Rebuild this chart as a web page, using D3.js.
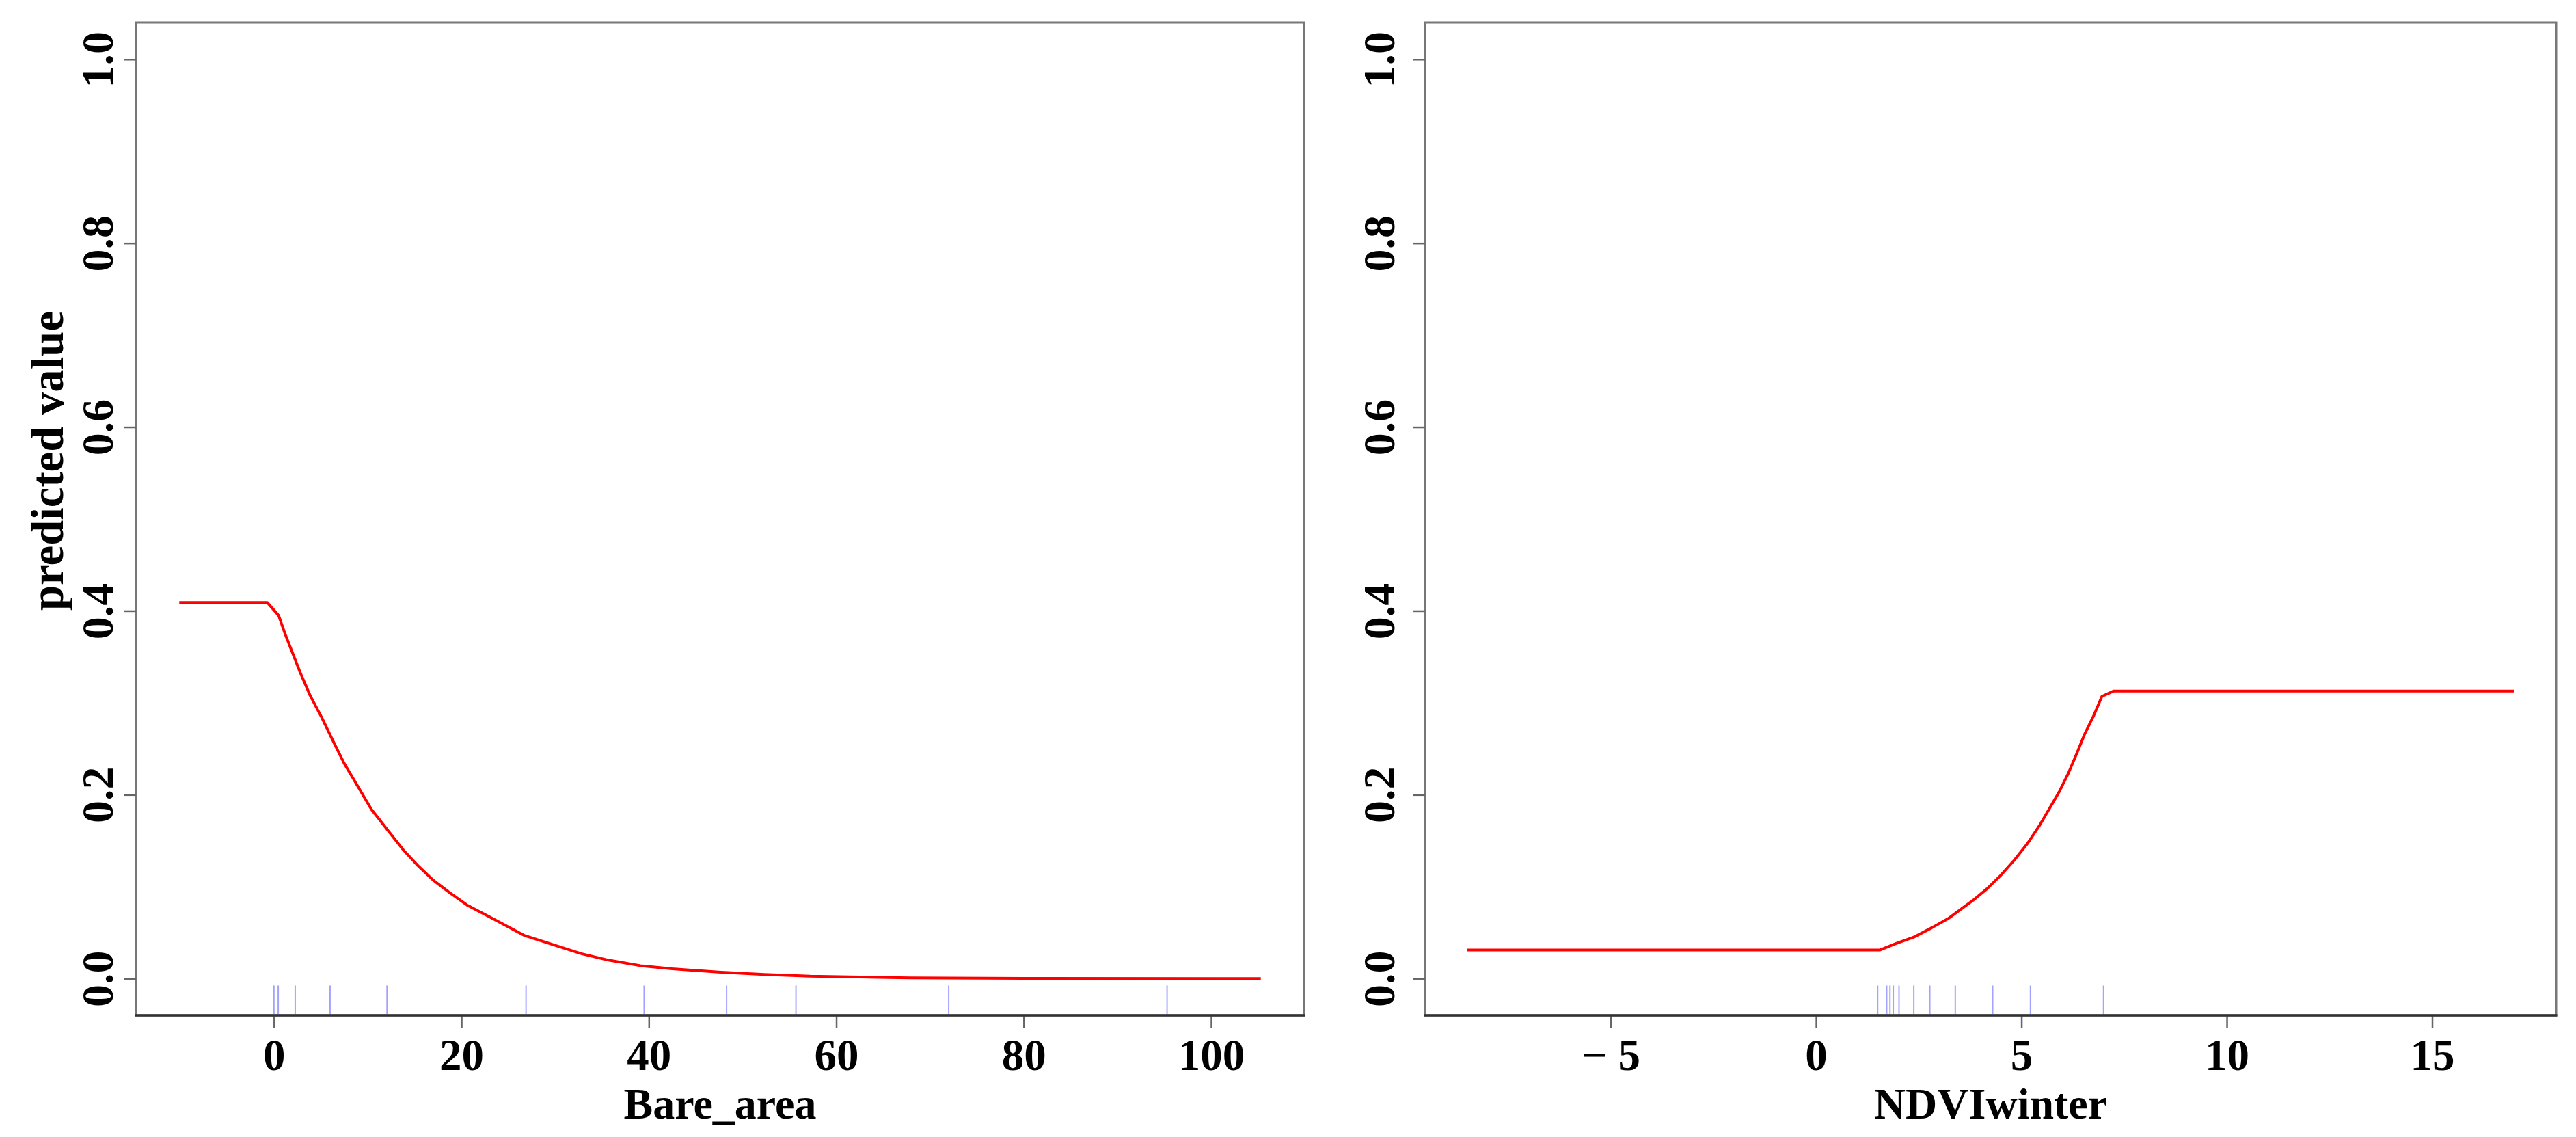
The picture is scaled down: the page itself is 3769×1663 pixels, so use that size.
<!DOCTYPE html>
<html>
<head>
  <meta charset="utf-8"/>
  <style>
    body { margin: 0; background: #fff; }
    svg { display: block; background: #fff; }
    text { font-family: "Liberation Serif", "Times New Roman", serif; font-weight: bold; fill: #000; }
  </style>
</head>
<body>
  <div id="chart"></div>
  <script src="https://cdn.jsdelivr.net/npm/d3@7"></script>
  <script>
    // values
    let bareX = [-10.1, -0.7, 0.5, 1.19, 2.8, 3.86, 5.1, 6.29, 7.5, 8.96, 10.4, 12.1, 13.8, 15.3, 17.0, 18.7, 20.6, 23.1, 26.7, 32.8, 35.7, 39.1, 42.5, 47.4, 52.3, 57.2, 67.9, 80, 105.3];
    let bareY = [0.409, 0.409, 0.395, 0.375, 0.333, 0.308, 0.284, 0.259, 0.234, 0.209, 0.184, 0.162, 0.140, 0.1235, 0.107, 0.0938, 0.080, 0.0665, 0.047, 0.027, 0.020, 0.014, 0.0106, 0.007, 0.0045, 0.0025, 0.0007, 0.0002, 0.0];
    let bareRug = [0.0, 0.46, 2.27, 5.99, 12.07, 26.9, 39.5, 48.3, 55.7, 72.0, 95.3];
    let bareTicks = [0, 20, 40, 60, 80, 100];

    let ndviX = [-8.5, 1.55, 1.94, 2.38, 2.82, 3.21, 3.82, 4.16, 4.49, 4.82, 5.15, 5.43, 5.71, 5.93, 6.15, 6.35, 6.54, 6.76, 6.96, 7.24, 17.0];
    let ndviY = [0.031, 0.031, 0.038, 0.045, 0.0553, 0.065, 0.085, 0.0975, 0.112, 0.1285, 0.147, 0.1657, 0.187, 0.204, 0.224, 0.245, 0.266, 0.286, 0.307, 0.3127, 0.3127];
    let ndviRug = [1.50, 1.72, 1.80, 1.88, 2.02, 2.38, 2.77, 3.39, 4.30, 5.22, 7.0];
    let ndviTicks = [-5, 0, 5, 10, 15];

    let yTicks = [0, 0.2, 0.4, 0.6, 0.8, 1.0];
    let yLabel = 'predicted value';

    let width = 3769,
        height = 1663,
        plotTop = 33,
        plotBottom = 1485;

    let panels = [
      {xs: bareX, ys: bareY, rug: bareRug, ticks: bareTicks, label: 'Bare_area', left: 199, right: 1908, lab: 34},
      {xs: ndviX, ys: ndviY, rug: ndviRug, ticks: ndviTicks, label: 'NDVIwinter', left: 2085, right: 3740, lab: 45}
    ];

    let svg = d3.select('#chart')
        .append('svg')
        .attr('width', width)
        .attr('height', height);

    // R style: pad data range by 4%
    function pad(ext) {
      let d = (ext[1] - ext[0]) * 0.04;
      return [ext[0] - d, ext[1] + d];
    }

    let y = d3.scaleLinear().domain([-0.04, 1.04]).range([plotBottom, plotTop]);

    panels.forEach(function (p) {
      let x = d3.scaleLinear().domain(pad(d3.extent(p.xs))).range([p.left, p.right]);
      let g = svg.append('g');

      // box
      g.append('rect')
          .attr('x', p.left).attr('y', plotTop)
          .attr('width', p.right - p.left).attr('height', plotBottom - plotTop)
          .attr('fill', 'none').attr('stroke', '#777').attr('stroke-width', 3);

      // rug
      g.selectAll('.rug')
          .data(p.rug)
          .enter()
          .append('line')
          .attr('x1', d => x(d)).attr('x2', d => x(d))
          .attr('y1', plotBottom).attr('y2', plotBottom - 0.03 * (plotBottom - plotTop))
          .attr('stroke', '#a3a3ff').attr('stroke-width', 2);

      // curve
      let pts = p.xs.map((v, i) => [v, p.ys[i]]);
      g.append('path')
          .datum(pts)
          .attr('fill', 'none')
          .attr('stroke', '#ff0000')
          .attr('stroke-width', 4)
          .attr('stroke-linejoin', 'round')
          .attr('d', d3.line().x(d => x(d[0])).y(d => y(d[1])));

      // x axis
      let xa = g.append('g')
          .attr('transform', 'translate(0,' + plotBottom + ')')
          .call(d3.axisBottom(x).tickValues(p.ticks).tickSize(18).tickSizeOuter(0)
              .tickFormat(d => d < 0 ? '\u2212 ' + Math.abs(d) : d));
      xa.select('.domain').remove();
      xa.selectAll('.tick line').attr('stroke', '#666').attr('stroke-width', 2.5);
      xa.selectAll('.tick text').attr('y', 80).attr('dy', null).style('font-size', '65px');

      g.append('line')
          .attr('x1', p.left - 1.5).attr('x2', p.right + 1.5)
          .attr('y1', plotBottom).attr('y2', plotBottom)
          .attr('stroke', '#333').attr('stroke-width', 3.5);

      // y axis
      let ya = g.append('g')
          .attr('transform', 'translate(' + p.left + ',0)')
          .call(d3.axisLeft(y).tickValues(yTicks).tickSize(18).tickSizeOuter(0).tickFormat(d3.format('.1f')));
      ya.select('.domain').remove();
      ya.selectAll('.tick line').attr('stroke', '#666').attr('stroke-width', 2.5);
      ya.selectAll('.tick text')
          .attr('x', null).attr('dy', null)
          .attr('text-anchor', 'middle')
          .attr('transform', 'translate(' + (-p.lab) + ',0) rotate(-90)')
          .style('font-size', '66px');

      // x label
      g.append('text')
          .attr('x', (p.left + p.right) / 2)
          .attr('y', 1636)
          .attr('text-anchor', 'middle')
          .style('font-size', '64px')
          .text(p.label);
    });

    svg.append('text')
        .attr('text-anchor', 'middle')
        .attr('transform', 'translate(92,674) rotate(-90)')
        .attr('textLength', 438)
        .attr('lengthAdjust', 'spacingAndGlyphs')
        .style('font-size', '68px')
        .text(yLabel);
  </script>
</body>
</html>
